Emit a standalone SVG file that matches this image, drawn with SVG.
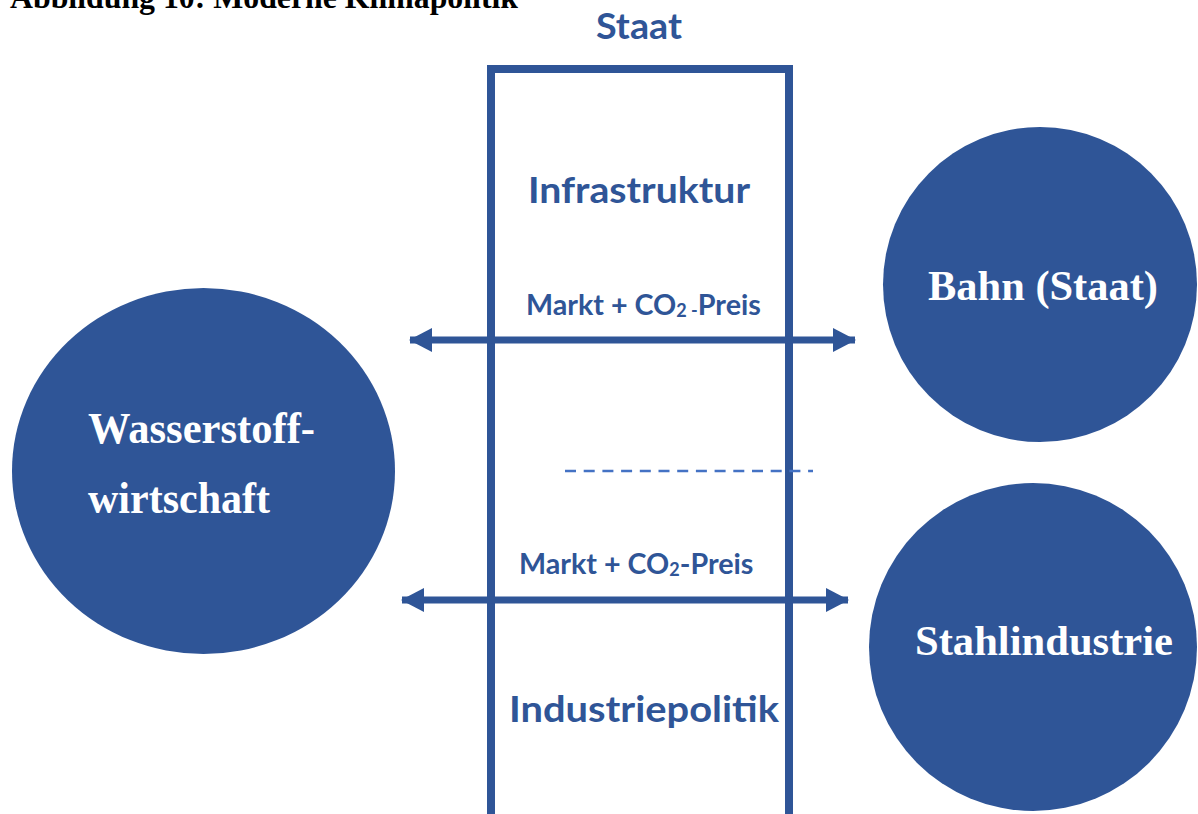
<svg xmlns="http://www.w3.org/2000/svg" width="1198" height="814" viewBox="0 0 1198 814">
<defs>
<style>
.sans{font-family:Lato,"Noto Sans","Liberation Sans",sans-serif;font-weight:bold;fill:#2F5597}
.serif{font-family:"Liberation Serif","Times New Roman",serif;font-weight:bold;fill:#FFFFFF}
.node{fill:#2F5597}
.conn{stroke:#2F5597;stroke-width:7;fill:none}
</style>
<marker id="ah" viewBox="0 0 23 24" refX="22" refY="12" markerUnits="userSpaceOnUse" markerWidth="23" markerHeight="24" orient="auto-start-reverse">
<path d="M0,0 L23,12 L0,24 Z" fill="#2F5597"/>
</marker>
</defs>
<rect width="1198" height="814" fill="#FFFFFF"/>
<text x="10" y="8" font-family="'Liberation Serif','Times New Roman',serif" font-weight="bold" font-size="32" fill="#000000" textLength="508" lengthAdjust="spacingAndGlyphs">Abbildung 10: Moderne Klimapolitik</text>
<g id="staat">
<path d="M491,814 V69 H789 V814" fill="none" stroke="#2F5597" stroke-width="8"/>
<text class="sans" x="596" y="39" font-size="37" textLength="86" lengthAdjust="spacingAndGlyphs">Staat</text>
<text class="sans" x="528" y="203" font-size="36" textLength="222" lengthAdjust="spacingAndGlyphs">Infrastruktur</text>
<text class="sans" x="509" y="722" font-size="36" textLength="270" lengthAdjust="spacingAndGlyphs">Industriepolitik</text>
</g>
<g id="connectors">
<line class="conn" x1="410" y1="340" x2="855" y2="340" marker-start="url(#ah)" marker-end="url(#ah)"/>
<line class="conn" x1="402" y1="600" x2="848" y2="600" marker-start="url(#ah)" marker-end="url(#ah)"/>
<line x1="565" y1="471" x2="813" y2="471" stroke="#4472C4" stroke-width="2.5" stroke-dasharray="11,7.7"/>
<text class="sans" x="526" y="315" font-size="28.7">Markt + CO<tspan font-size="18" dy="2">2 -</tspan><tspan dy="-2">Preis</tspan></text>
<text class="sans" x="519" y="574" font-size="28.7">Markt + CO<tspan font-size="18" dy="2">2</tspan><tspan dy="-2">-Preis</tspan></text>
</g>
<g id="wasserstoff">
<ellipse class="node" cx="203.5" cy="471" rx="191.5" ry="183"/>
<text class="serif" x="88" y="443" font-size="44" textLength="227" lengthAdjust="spacingAndGlyphs">Wasserstoff-</text>
<text class="serif" x="88" y="513" font-size="44" textLength="182" lengthAdjust="spacingAndGlyphs">wirtschaft</text>
</g>
<g id="bahn">
<ellipse class="node" cx="1040" cy="284.5" rx="157" ry="157.5"/>
<text class="serif" x="928" y="300" font-size="42" textLength="230" lengthAdjust="spacingAndGlyphs">Bahn (Staat)</text>
</g>
<g id="stahl">
<ellipse class="node" cx="1033" cy="647" rx="164" ry="164"/>
<text class="serif" x="915" y="655" font-size="42" textLength="258" lengthAdjust="spacingAndGlyphs">Stahlindustrie</text>
</g>
</svg>
